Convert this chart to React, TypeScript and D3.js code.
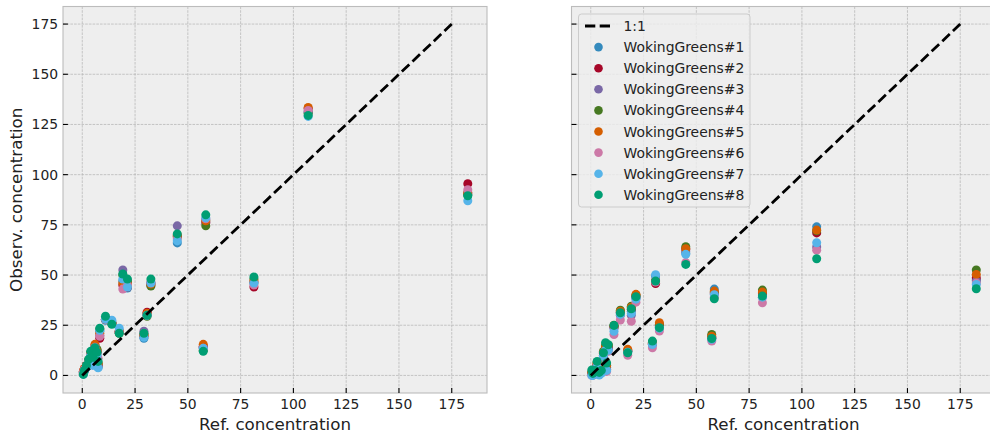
import React from "react";
import * as d3 from "d3";

// Reference concentrations shared by every sensor
const REF = [0.5, 1, 2, 3, 4, 5, 6, 7, 7.5, 8.3, 11, 14, 17.5, 19.2, 21.4, 29.2, 30.7, 32.5, 45, 57.3, 58.5, 81.3, 107, 182.6];

const SENSOR_NAMES = [
  "WokingGreens#1",
  "WokingGreens#2",
  "WokingGreens#3",
  "WokingGreens#4",
  "WokingGreens#5",
  "WokingGreens#6",
  "WokingGreens#7",
  "WokingGreens#8",
];

const SENSOR_COLORS = ["#348ABD", "#A60628", "#7A68A6", "#467821", "#D55E00", "#CC79A7", "#56B4E9", "#009E73"];

// Observed concentration, raw sensor output
const RAW_1 = [1.5, 2.5, 4, 6.5, 10, 6, 13, 11, 4, 22, 27.5, 26.5, 22, 47, 43.5, 18.5, 30.5, 46, 66, 14, 77.5, 46, 131, 90];
const RAW_2 = [2, 3, 5, 7, 11, 7, 14, 12, 5, 18.5, 28, 26, 21.5, 45, 44, 19.5, 31.5, 45, 69.5, 14.5, 76, 44, 133, 95.5];
const RAW_3 = [1.5, 3, 5, 7, 11, 7, 15, 12, 5, 20, 28, 26, 22, 52.5, 46, 22, 30.5, 46, 74.5, 14, 76.5, 46.5, 131.5, 91];
const RAW_4 = [1, 2.5, 4.5, 7.5, 11.5, 7.5, 13, 13, 6, 23, 28, 26, 21, 50, 47, 20.5, 29.5, 44.5, 69, 12.5, 74.5, 48, 130.5, 90];
const RAW_5 = [2, 3.5, 5, 7.5, 11, 8, 15.5, 12, 6, 21, 28, 26, 22, 46, 45.5, 20, 31, 45.5, 70, 15.5, 77, 47, 133.5, 91];
const RAW_6 = [1.5, 3, 4.5, 7, 10.5, 7.5, 14, 11, 8.5, 19.5, 28, 26, 21.5, 43, 45, 21, 30, 46.5, 68, 13.5, 78, 45, 132, 92.5];
const RAW_7 = [0.5, 2, 4, 6, 10, 5, 12, 10, 3.8, 22.5, 28, 27.5, 23.5, 48, 44, 19, 30, 46, 67, 13.5, 78.5, 46, 129, 87];
const RAW_8 = [0.5, 2.5, 5, 8, 12, 9, 13.8, 11.5, 7, 23.5, 29.5, 25.5, 21, 50.5, 48, 21, 30, 48, 70.5, 12, 80, 49, 129.5, 89.5];

// Observed concentration after calibration
const CAL_1 = [1, 0.5, 2, 5, 1, 2, 10, 13, 3, 13, 24, 31, 12, 32, 39, 15.5, 49.5, 24, 61, 18.5, 43, 40.5, 74, 47.5];
const CAL_2 = [1, 1, 2.5, 5.5, 1.5, 2.5, 11, 14, 4, 14, 24.5, 31.5, 12.5, 33, 39.5, 16, 45.8, 25, 63, 19, 41, 41, 71, 48.5];
const CAL_3 = [0.5, 0.5, 2, 5, 1, 2, 10, 13, 3, 13.5, 23.5, 30, 12, 30, 38.5, 15.5, 47.5, 24.5, 62, 18.5, 40.5, 39, 64, 47];
const CAL_4 = [1.5, 1.5, 3, 6.5, 2, 3, 12, 15, 5, 15, 25, 32.5, 12, 34.5, 40, 16.5, 47, 25.5, 64.1, 20.4, 41.5, 42.5, 72, 52.5];
const CAL_5 = [1.5, 1.5, 3, 6, 2, 3, 11.5, 14.5, 5, 15, 24.5, 32, 13, 34, 40.4, 16, 47, 26.3, 63.1, 19.5, 42, 41.5, 72.4, 50.3];
const CAL_6 = [0, 0, 1.5, 4.5, 0.5, 1.5, 9, 12, 2, 12, 20.4, 27.6, 10, 27, 36.5, 13.8, 46.5, 22.1, 56.2, 17.1, 39, 36.2, 62.4, 46];
const CAL_7 = [0, 0, 1, 4, 0.2, 1, 9.5, 12.5, 2.5, 12.5, 22, 30.4, 11.5, 30.9, 38, 15.4, 50.2, 23.5, 60.3, 18, 40.2, 39, 66.1, 45.3];
const CAL_8 = [2.7, 1, 2.5, 7, 1.5, 2.5, 11.3, 16.3, 6.2, 15.3, 24.9, 31.2, 11.3, 33.2, 39.2, 17.1, 47, 23.8, 55.3, 18.4, 38.2, 39.5, 58.1, 43.2];

const RAW_SERIES = [RAW_1, RAW_2, RAW_3, RAW_4, RAW_5, RAW_6, RAW_7, RAW_8];
const CAL_SERIES = [CAL_1, CAL_2, CAL_3, CAL_4, CAL_5, CAL_6, CAL_7, CAL_8];

const X_TICKS = [0, 25, 50, 75, 100, 125, 150, 175];
const Y_TICKS = [0, 25, 50, 75, 100, 125, 150, 175];
const ONE_TO_ONE = [0, 175];

const X_DOMAIN: [number, number] = [-9.13, 191.7];
const Y_DOMAIN: [number, number] = [-8.75, 183.75];

const FONT = "DejaVu Sans, Verdana, sans-serif";
const TICK_FS = 13.9;
const LABEL_FS = 16.7;
const TOP = 6.5;
const BOTTOM = 393;
const PANEL_W = 424;
const TICK_LEN = 4.9;

type PanelProps = {
  x0: number;
  series: number[][];
  showYLabels: boolean;
  showLegend: boolean;
  clipId: string;
};

function Panel({ x0, series, showYLabels, showLegend, clipId }: PanelProps) {
  const x = d3.scaleLinear().domain(X_DOMAIN).range([x0, x0 + PANEL_W]);
  const y = d3.scaleLinear().domain(Y_DOMAIN).range([BOTTOM, TOP]);
  const line = d3
    .line<number>()
    .x((d) => x(d))
    .y((d) => y(d));

  const legendX = x0 + 7;
  const legendY = 14;
  const rowH = 21.1;
  const firstRow = 26;

  return (
    <g>
      <clipPath id={clipId}>
        <rect x={x0} y={TOP} width={PANEL_W} height={BOTTOM - TOP} />
      </clipPath>
      <rect x={x0} y={TOP} width={PANEL_W} height={BOTTOM - TOP} fill="#eeeeee" />
      {/* grid */}
      {X_TICKS.map((t) => (
        <line key={"gx" + t} x1={x(t)} x2={x(t)} y1={TOP} y2={BOTTOM} stroke="#b2b2b2" strokeWidth={0.7} strokeDasharray="2.6 1.1" />
      ))}
      {Y_TICKS.map((t) => (
        <line key={"gy" + t} x1={x0} x2={x0 + PANEL_W} y1={y(t)} y2={y(t)} stroke="#b2b2b2" strokeWidth={0.7} strokeDasharray="2.6 1.1" />
      ))}
      {/* scatter */}
      <g clipPath={`url(#${clipId})`}>
        {series.map((vals, si) =>
          vals.map((v, i) => (
            <circle key={`p${si}-${i}`} cx={x(REF[i])} cy={y(v)} r={4.5} fill={SENSOR_COLORS[si]} />
          ))
        )}
        <path d={line(ONE_TO_ONE) || ""} fill="none" stroke="#000" strokeWidth={2.78} strokeDasharray="10.3 4.4" />
      </g>
      {/* spines */}
      <rect x={x0} y={TOP} width={PANEL_W} height={BOTTOM - TOP} fill="none" stroke="#bcbcbc" strokeWidth={1.1} />
      {/* ticks */}
      {X_TICKS.map((t) => (
        <g key={"tx" + t}>
          <line x1={x(t)} x2={x(t)} y1={BOTTOM} y2={BOTTOM - TICK_LEN} stroke="#000" strokeWidth={1.1} />
          <text x={x(t)} y={BOTTOM + 16} textAnchor="middle" fontFamily={FONT} fontSize={TICK_FS} fill="#222">
            {t}
          </text>
        </g>
      ))}
      {Y_TICKS.map((t) => (
        <g key={"ty" + t}>
          <line x1={x0} x2={x0 + TICK_LEN} y1={y(t)} y2={y(t)} stroke="#000" strokeWidth={1.1} />
          {showYLabels && (
            <text x={x0 - 4.9} y={y(t) + 5} textAnchor="end" fontFamily={FONT} fontSize={TICK_FS} fill="#222">
              {t}
            </text>
          )}
        </g>
      ))}
      <text x={x0 + PANEL_W / 2} y={429.5} textAnchor="middle" fontFamily={FONT} fontSize={LABEL_FS} fill="#222">
        Ref. concentration
      </text>
      {showYLabels && (
        <text
          transform={`translate(22.3, ${(TOP + BOTTOM) / 2}) rotate(-90)`}
          textAnchor="middle"
          fontFamily={FONT}
          fontSize={LABEL_FS}
          fill="#222"
        >
          Observ. concentration
        </text>
      )}
      {showLegend && (
        <g>
          <rect x={legendX} y={legendY} width={171.5} height={193} rx={3} ry={3} fill="#eeeeee" fillOpacity={0.8} stroke="#cccccc" strokeWidth={1} />
          <line x1={legendX + 6.5} x2={legendX + 33} y1={firstRow} y2={firstRow} stroke="#000" strokeWidth={2.78} strokeDasharray="10.3 4.4" />
          <text x={legendX + 45} y={firstRow + 5} fontFamily={FONT} fontSize={TICK_FS} fill="#222">
            1:1
          </text>
          {SENSOR_NAMES.map((name, i) => {
            const ry = firstRow + rowH * (i + 1);
            return (
              <g key={name}>
                <circle cx={legendX + 20} cy={ry} r={4.3} fill={SENSOR_COLORS[i]} />
                <text x={legendX + 45} y={ry + 5} fontFamily={FONT} fontSize={TICK_FS} fill="#222">
                  {name}
                </text>
              </g>
            );
          })}
        </g>
      )}
    </g>
  );
}

export default function App() {
  return (
    <svg
      width={990}
      height={439}
      viewBox="0 0 990 439"
      style={{ position: "absolute", left: 0, top: 0, background: "#ffffff", display: "block" }}
    >
      <rect x={0} y={0} width={990} height={439} fill="#ffffff" />
      <Panel x0={63} series={RAW_SERIES} showYLabels={true} showLegend={false} clipId="clip-raw" />
      <Panel x0={571.5} series={CAL_SERIES} showYLabels={false} showLegend={true} clipId="clip-cal" />
    </svg>
  );
}
